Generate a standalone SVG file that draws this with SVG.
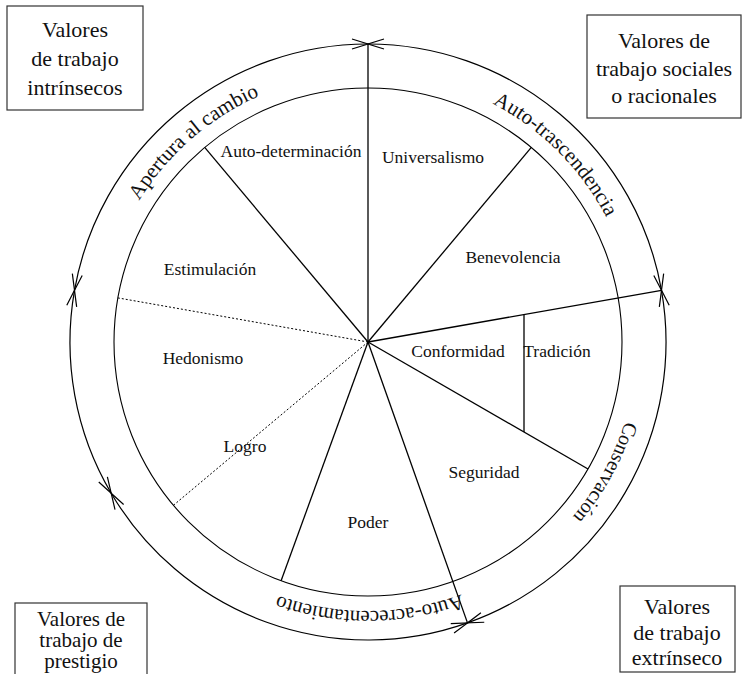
<svg xmlns="http://www.w3.org/2000/svg" width="742" height="674" viewBox="0 0 742 674" font-family="'Liberation Serif', 'Times New Roman', serif">
<style>
.ln{stroke:#000;stroke-width:1.3;fill:none}
.dot{stroke:#000;stroke-width:1;stroke-dasharray:2 2;fill:none}
.circ{stroke:#000;stroke-width:1.1;fill:none}
.arc{stroke:#000;stroke-width:1.2;fill:none;marker-start:url(#ah);marker-end:url(#ah)}
.box{stroke:#333;stroke-width:1.2;fill:#fff}
.bt{font-family:"Liberation Serif","Times New Roman",serif;font-size:22px;text-anchor:middle;fill:#111}
.bs{font-family:"Liberation Serif","Times New Roman",serif;font-size:21px;text-anchor:middle;fill:#111}
.st{font-family:"Liberation Serif","Times New Roman",serif;font-size:17.5px;text-anchor:middle;fill:#111}
.at{font-family:"Liberation Serif","Times New Roman",serif;font-size:21px;fill:#111}
</style>
<defs>
<marker id="ah" markerUnits="userSpaceOnUse" viewBox="-20 -10 24 20" markerWidth="24" markerHeight="20" refX="0" refY="0" orient="auto-start-reverse" overflow="visible">
<path d="M-16,-5 L0,0 L-16,5" fill="none" stroke="#000" stroke-width="1.2"/>
</marker>
<path id="tp" d="M368,73 A269,269 0 1 1 367.99,73"/>
</defs>
<g id="boxes">
<g id="box-intrinsecos"><rect class="box" x="7" y="6" width="136" height="104"/>
<text class="bt" x="75" y="37">Valores</text><text class="bt" x="75" y="66">de trabajo</text><text class="bt" x="75" y="95">intrínsecos</text></g>
<g id="box-sociales"><rect class="box" x="587" y="15" width="154" height="103"/>
<text class="bt" x="664" y="48">Valores de</text><text class="bt" x="664" y="76">trabajo sociales</text><text class="bt" x="664" y="103">o racionales</text></g>
<g id="box-prestigio"><rect class="box" x="15" y="603" width="132" height="80"/>
<text class="bs" x="81" y="626">Valores de</text><text class="bs" x="81" y="647">trabajo de</text><text class="bs" x="81" y="668">prestigio</text></g>
<g id="box-extrinseco"><rect class="box" x="620" y="586" width="115" height="86"/>
<text class="bt" x="677" y="614">Valores</text><text class="bt" x="677" y="640">de trabajo</text><text class="bt" x="677" y="665">extrínseco</text></g>
</g>
<g id="circles">
<circle class="circ" cx="368" cy="342" r="254"/>
</g>
<g id="connectors">
<path class="arc" d="M368,44 A298,298 0 0 0 74.5,290.3"/>
<path class="arc" d="M74.5,290.3 A298,298 0 0 0 111.2,493.2"/>
<path class="arc" d="M111.2,493.2 A298,298 0 0 0 467.5,622.9"/>
<path class="arc" d="M467.5,622.9 A298,298 0 0 0 661.5,290.3"/>
<path class="arc" d="M661.5,290.3 A298,298 0 0 0 368,44"/>
<line class="ln" x1="368" y1="342" x2="368" y2="44"/>
<line class="ln" x1="368" y1="342" x2="204.7" y2="147.4"/>
<line class="ln" x1="368" y1="342" x2="531.3" y2="147.4"/>
<line class="ln" x1="368" y1="342" x2="661.5" y2="290.3"/>
<line class="ln" x1="368" y1="342" x2="588" y2="469"/>
<line class="ln" x1="368" y1="342" x2="467.5" y2="622.9"/>
<line class="ln" x1="368" y1="342" x2="281.1" y2="580.7"/>
<line class="dot" x1="368" y1="342" x2="173.4" y2="505.3"/>
<line class="dot" x1="368" y1="342" x2="117.9" y2="297.9"/>
<line class="ln" x1="524" y1="314.5" x2="524" y2="432.1"/>
</g>
<g id="arc-labels">
<text class="at"><textPath href="#tp" startOffset="88.6%" text-anchor="middle">Apertura al cambio</textPath></text>
<text class="at"><textPath href="#tp" startOffset="12.5%" text-anchor="middle">Auto-trascendencia</textPath></text>
<text class="at" style="font-size:20px"><textPath href="#tp" startOffset="33%" text-anchor="middle">Conservación</textPath></text>
<text class="at"><textPath href="#tp" startOffset="49.9%" text-anchor="middle">Auto-acrecentamiento</textPath></text>
</g>
<g id="sectors">
<text class="st" x="291" y="157">Auto-determinación</text>
<text class="st" x="433" y="163">Universalismo</text>
<text class="st" x="210" y="275">Estimulación</text>
<text class="st" x="513" y="263">Benevolencia</text>
<text class="st" x="203" y="364">Hedonismo</text>
<text class="st" x="458" y="357">Conformidad</text>
<text class="st" x="557" y="357">Tradición</text>
<text class="st" x="245" y="452">Logro</text>
<text class="st" x="484" y="478">Seguridad</text>
<text class="st" x="368" y="528">Poder</text>
</g>
</svg>
